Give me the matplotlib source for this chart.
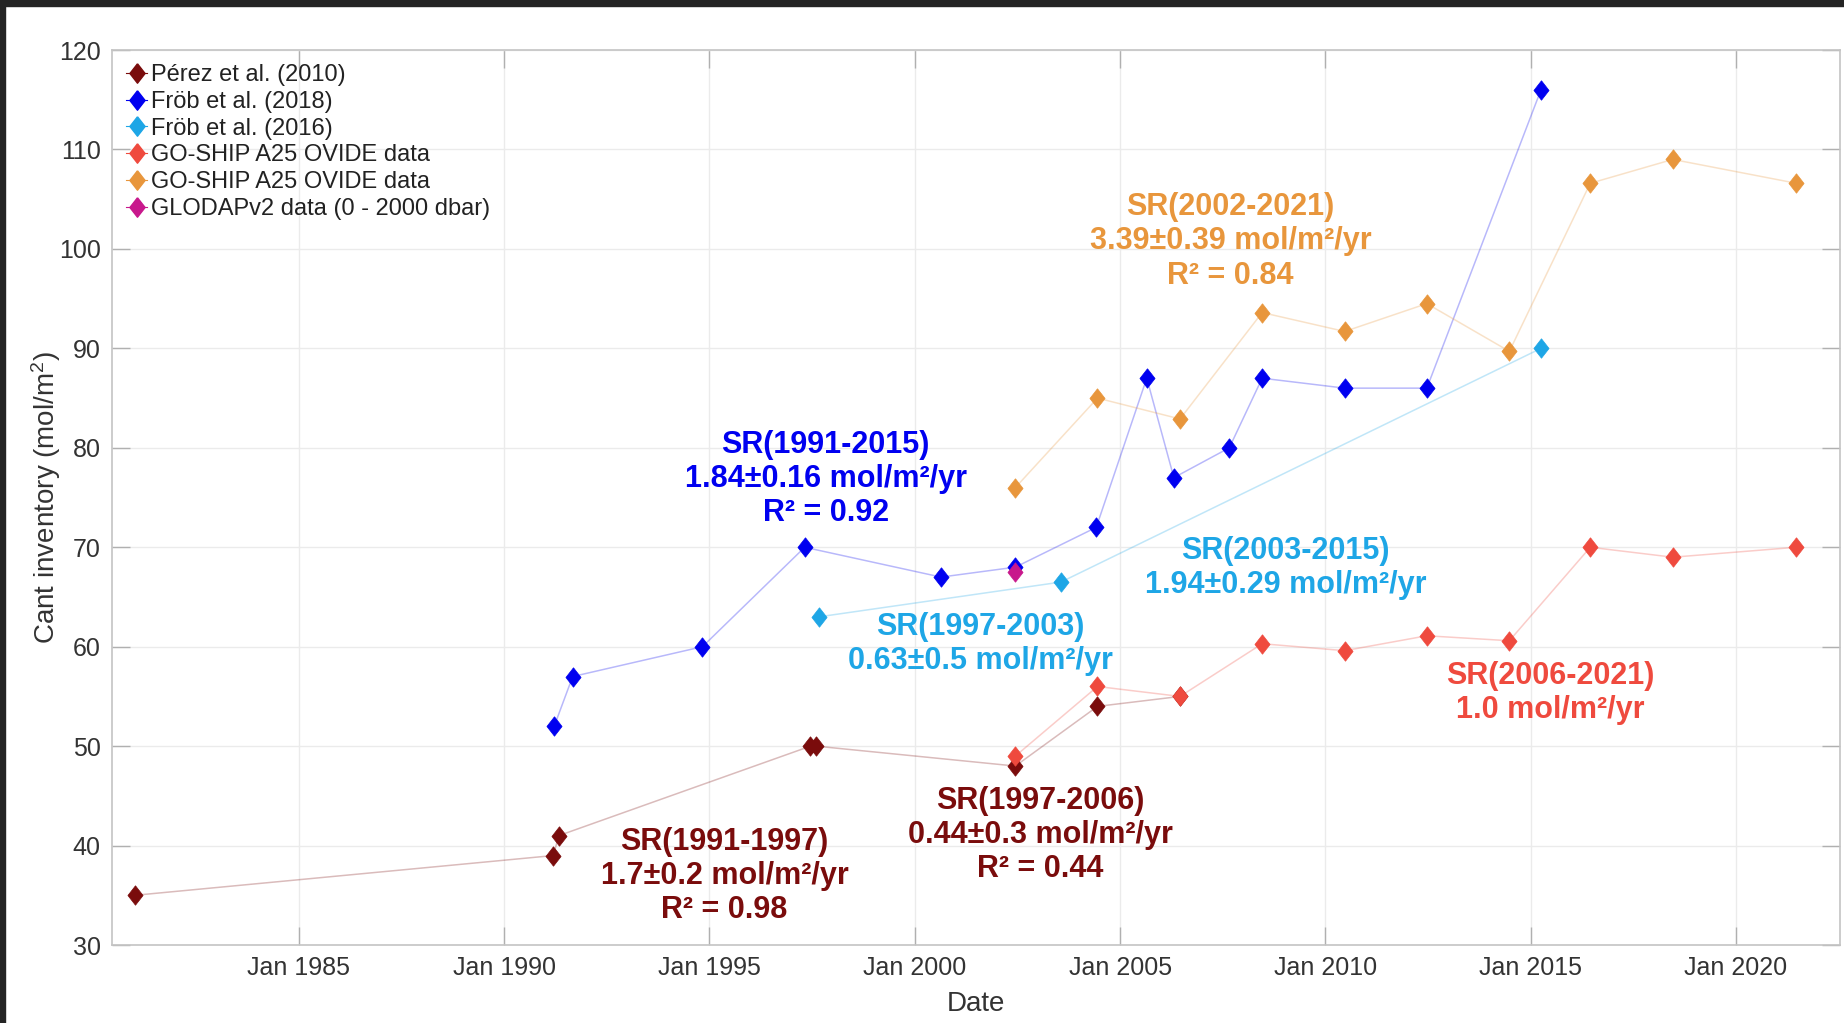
import matplotlib
matplotlib.use("Agg")
import matplotlib.pyplot as plt
from matplotlib.patches import Rectangle

plt.rcParams['font.family'] = ['Liberation Sans', 'DejaVu Sans']
plt.rcParams['mathtext.default'] = 'regular'

# decimal years and inventories (mol/m2)
perez_t = [1981.0, 1991.2, 1991.33, 1997.46, 1997.6, 2002.45, 2004.45, 2006.46]
perez_c = [35, 39, 41, 50, 50, 48, 54, 55]

frob18_t = [1991.22, 1991.67, 1994.83, 1997.32, 2000.64, 2002.45, 2004.42, 2005.65,
            2006.31, 2007.66, 2008.46, 2010.47, 2012.47, 2015.25]
frob18_c = [52, 57, 60, 70, 67, 68, 72, 87, 77, 80, 87, 86, 86, 116]

frob16_t = [1997.66, 2003.56, 2015.25]
frob16_c = [63, 66.5, 90]

ovide_red_t = [2002.45, 2004.45, 2006.46, 2008.46, 2010.47, 2012.47, 2014.48, 2016.45, 2018.46, 2021.47]
ovide_red_c = [49, 56, 55, 60.3, 59.6, 61.1, 60.6, 70, 69, 70]

ovide_org_t = [2002.45, 2004.45, 2006.46, 2008.46, 2010.47, 2012.47, 2014.48, 2016.45, 2018.46, 2021.47]
ovide_org_c = [76, 85, 82.9, 93.6, 91.7, 94.5, 89.7, 106.6, 109, 106.6]

glodap_t = [2002.45]
glodap_c = [67.5]

year_ticks = [1985, 1990, 1995, 2000, 2005, 2010, 2015, 2020]

c_perez = '#7a0c0c'
c_frob18 = '#0000f0'
c_frob16 = '#1ea6e6'
c_red = '#ef4a3e'
c_org = '#e8963c'
c_glodap = '#c8188c'

# a diamond a bit narrower than it is tall
diamond = [(0, 1), (0.78, 0), (0, -1), (-0.78, 0), (0, 1)]

fig = plt.figure(figsize=(18.44, 10.23), dpi=100)
ax = fig.add_axes([0.0607, 0.0762, 0.9371, 0.8749])

series = [
    (perez_t, perez_c, c_perez, 'Pérez et al. (2010)'),
    (frob18_t, frob18_c, c_frob18, 'Fröb et al. (2018)'),
    (frob16_t, frob16_c, c_frob16, 'Fröb et al. (2016)'),
    (ovide_red_t, ovide_red_c, c_red, 'GO-SHIP A25 OVIDE data'),
    (ovide_org_t, ovide_org_c, c_org, 'GO-SHIP A25 OVIDE data'),
    (glodap_t, glodap_c, c_glodap, 'GLODAPv2 data (0 - 2000 dbar)'),
]
handles = []
for t, c, col, lab in series:
    ax.plot(t, c, '-', color=col, lw=1.1, alpha=0.28, zorder=2)
    ax.plot(t, c, ls='none', marker=diamond, color=col, ms=14, mec=col, mew=0.5, zorder=3)
    h, = ax.plot([], [], '-', marker=diamond, color=col, ms=14, lw=0.8, label=lab)
    handles.append(h)

leg = ax.legend(handles=handles, loc='upper left', frameon=False, fontsize=17,
                handlelength=0.9, handletextpad=0.15, labelspacing=0.2,
                borderaxespad=0.2, bbox_to_anchor=(0.0, 1.0))
for txt in leg.get_texts():
    txt.set_color('#222222')

ann = dict(ha='center', va='center', fontsize=22, fontweight='bold', linespacing=1.18)
ax.text(1997.83, 76.85, 'SR(1991-2015)\n1.84±0.16 mol/m²/yr\nR² = 0.92', color=c_frob18, **ann)
ax.text(2007.69, 100.75, 'SR(2002-2021)\n3.39±0.39 mol/m²/yr\nR² = 0.84', color=c_org, **ann)
ax.text(2009.03, 67.95, 'SR(2003-2015)\n1.94±0.29 mol/m²/yr', color=c_frob16, **ann)
ax.text(2001.59, 60.25, 'SR(1997-2003)\n0.63±0.5 mol/m²/yr', color=c_frob16, **ann)
ax.text(2015.48, 55.35, 'SR(2006-2021)\n1.0 mol/m²/yr', color=c_red, **ann)
ax.text(2003.05, 41.05, 'SR(1997-2006)\n0.44±0.3 mol/m²/yr\nR² = 0.44', color=c_perez, **ann)
ax.text(1995.37, 36.95, 'SR(1991-1997)\n1.7±0.2 mol/m²/yr\nR² = 0.98', color=c_perez, **ann)

ax.set_xlim(1980.45, 2022.53)
ax.set_ylim(30, 120)
ax.set_xticks(year_ticks)
ax.set_xticklabels(['Jan %d' % y for y in year_ticks])
ax.set_yticks(range(30, 121, 10))
ax.tick_params(direction='in', length=13, width=1.0, color='#b0b0b0',
               labelsize=18, labelcolor='#333333', top=True, right=True, pad=8)
ax.grid(True, color='#ebebeb', lw=1.0)
ax.set_axisbelow(True)
for s in ax.spines.values():
    s.set_color('#c4c4c4')
    s.set_linewidth(1.2)

ax.set_xlabel('Date', fontsize=20, color='#333333', labelpad=8)
ax.set_ylabel('Cant inventory (mol/m$^2$)', fontsize=20, color='#333333', labelpad=-3)

# dark screen edge along the top and the left
fig.patches.append(Rectangle((0, 1 - 6 / 1023), 1, 6 / 1023, transform=fig.transFigure,
                             color='#242424', zorder=10))
fig.patches.append(Rectangle((0, 0), 5 / 1844, 1, transform=fig.transFigure,
                             color='#242424', zorder=10))

fig.savefig('out.png', dpi=100)
